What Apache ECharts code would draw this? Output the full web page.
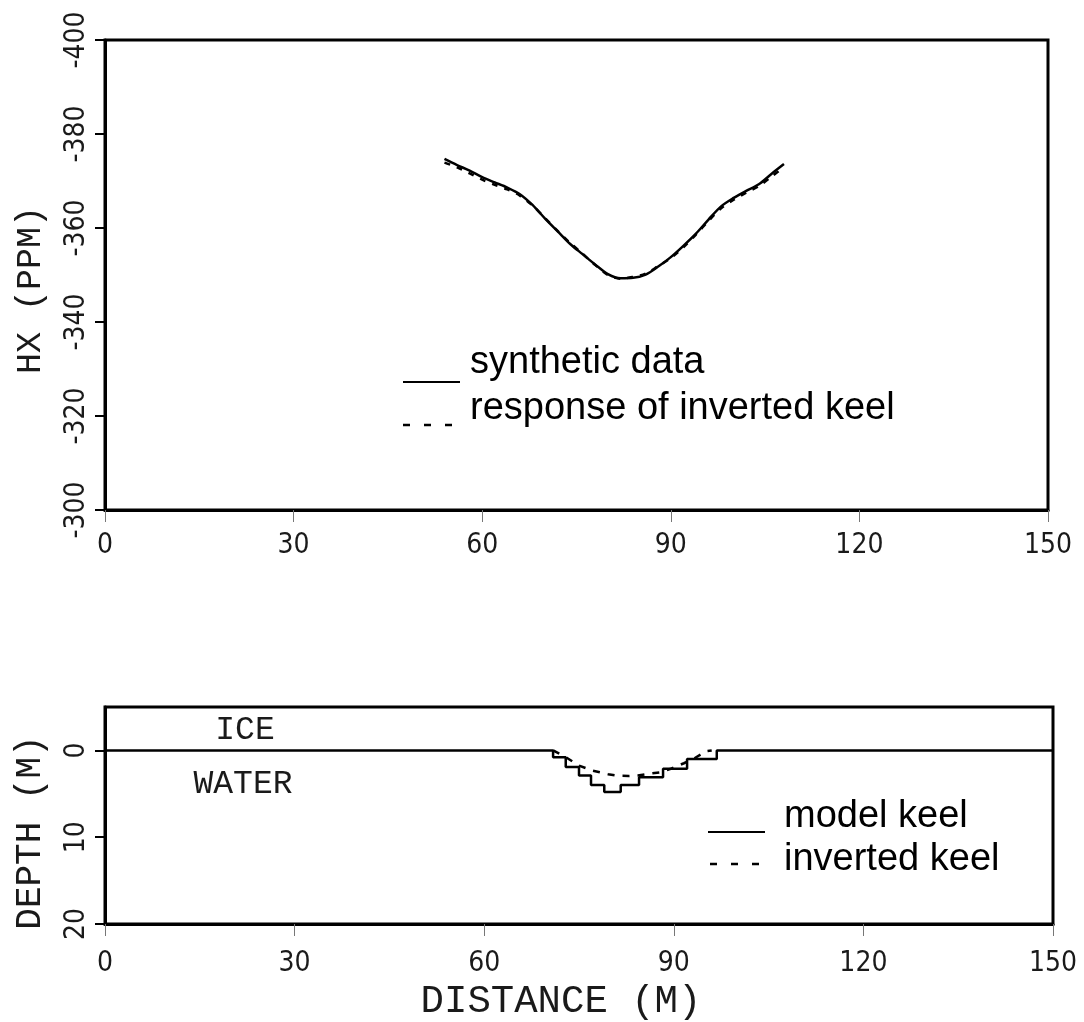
<!DOCTYPE html>
<html>
<head>
<meta charset="utf-8">
<script src="https://cdn.jsdelivr.net/npm/echarts@6/dist/echarts.min.js"></script>
<style>
  html, body { margin: 0; padding: 0; background: #fff; }
  #chart { width: 1084px; height: 1022px; }
</style>
</head>
<body>
<div id="chart"></div>
<script>
// Tick values
const distanceTicks = [0, 30, 60, 90, 120, 150];
const hxTicks = [-400, -380, -360, -340, -320, -300];
const depthTicks = [0, 10, 20];

// Hx profile across the keel (ppm)
const hxDistance  = [54, 56, 58, 60, 62, 64, 66, 68, 70, 72, 74, 76, 78, 80, 82, 84, 86, 88, 90, 92, 94, 96, 98, 100, 102, 104, 106, 108];
const hxSynthetic = [-374.7, -373.4, -372.2, -370.8, -369.7, -368.6, -367.2, -364.9, -362.0, -359.3, -356.6, -354.4, -352.2, -350.2, -349.3, -349.4, -350.1, -351.8, -353.8, -356.2, -358.8, -361.8, -364.6, -366.4, -367.9, -369.3, -371.5, -373.6];
const hxInverted  = [-373.9, -372.9, -371.6, -370.3, -369.2, -368.2, -366.9, -364.8, -362.1, -359.4, -356.8, -354.5, -352.1, -350.0, -349.2, -349.6, -350.3, -351.9, -353.6, -355.9, -358.6, -361.5, -364.2, -366.0, -367.5, -368.9, -370.9, -373.0];

// Model keel: depth level starting at each distance (stepped profile)
const modelKeelDistance = [0, 70.9, 72.9, 75.0, 76.9, 79.0, 81.6, 84.5, 88.3, 92.1, 96.8, 150];
const modelKeelDepth    = [0, 0.8, 1.9, 2.9, 4.0, 4.8, 4.0, 3.1, 2.1, 1.0, 0, 0];

// Inverted keel profile
const invertedKeelDistance = [70.9, 72.9, 75.0, 77.2, 79.6, 81.3, 82.9, 84.3, 86.2, 87.8, 89.4, 91.6, 93.2, 95.2, 96.0];
const invertedKeelDepth    = [0, 0.78, 1.75, 2.34, 2.74, 2.93, 2.94, 2.88, 2.67, 2.53, 2.15, 1.48, 0.93, 0.08, 0];

const pair = (xs, ys) => xs.map((x, i) => [x, ys[i]]);

const tickFont = "'Liberation Sans Narrow', 'DejaVu Sans Condensed', sans-serif";
const plotFont = "'Liberation Mono', 'DejaVu Sans Mono', monospace";
const legendFont = "'Liberation Sans', Arial, sans-serif";

const frame = { show: true, onZero: false, lineStyle: { color: '#000', width: 3 } };
const xLabel = { fontFamily: tickFont, fontSize: 28, color: '#1a1a1a' };
const yLabel = { fontFamily: tickFont, fontSize: 28, color: '#1a1a1a', rotate: 90, margin: 14 };
const xTick = { show: true, length: 12, lineStyle: { color: '#777', width: 1 } };
const yTick = { show: true, length: 10, lineStyle: { color: '#000', width: 2 } };

const chart = echarts.init(document.getElementById('chart'), null, { renderer: 'canvas' });

chart.setOption({
  animation: false,
  backgroundColor: '#fff',
  grid: [
    { left: 105, top: 40, width: 943, height: 470, show: true, borderColor: '#000', borderWidth: 3 },
    { left: 105, top: 707, width: 948, height: 220, show: true, borderColor: '#000', borderWidth: 3 }
  ],
  xAxis: [
    {
      gridIndex: 0, type: 'value', min: 0, max: 150, interval: 30,
      axisLine: frame, axisTick: xTick, splitLine: { show: false },
      axisLabel: Object.assign({ customValues: distanceTicks, margin: 22 }, xLabel)
    },
    {
      gridIndex: 1, type: 'value', min: 0, max: 150, interval: 30,
      axisLine: frame, axisTick: xTick, splitLine: { show: false },
      axisLabel: Object.assign({ customValues: distanceTicks, margin: 26 }, xLabel),
      name: 'DISTANCE (M)', nameLocation: 'middle', nameGap: 58,
      nameTextStyle: { fontFamily: plotFont, fontSize: 39, color: '#1a1a1a', padding: [0, 36, 0, 0] }
    }
  ],
  yAxis: [
    {
      gridIndex: 0, type: 'value', min: -400, max: -300, interval: 20, inverse: true,
      axisLine: frame, axisTick: yTick, splitLine: { show: false },
      axisLabel: Object.assign({ customValues: hxTicks }, yLabel),
      name: 'HX (PPM)', nameLocation: 'middle', nameRotate: 90, nameGap: 57,
      nameTextStyle: { fontFamily: plotFont, fontSize: 35, color: '#1a1a1a', padding: [0, 30, 0, 0] }
    },
    {
      gridIndex: 1, type: 'value', min: -5, max: 20, inverse: true,
      axisLine: frame, splitLine: { show: false },
      axisTick: Object.assign({ customValues: depthTicks }, yTick),
      axisLabel: Object.assign({ customValues: depthTicks }, yLabel),
      name: 'DEPTH (M)', nameLocation: 'middle', nameRotate: 90, nameGap: 57,
      nameTextStyle: { fontFamily: plotFont, fontSize: 36, color: '#1a1a1a', padding: [0, 34, 0, 0] }
    }
  ],
  series: [
    {
      name: 'synthetic data', type: 'line', xAxisIndex: 0, yAxisIndex: 0,
      data: pair(hxDistance, hxSynthetic), smooth: 0.3, symbol: 'none',
      lineStyle: { color: '#000', width: 2.5 }
    },
    {
      name: 'response of inverted keel', type: 'line', xAxisIndex: 0, yAxisIndex: 0,
      data: pair(hxDistance, hxInverted), smooth: 0.3, symbol: 'none',
      lineStyle: { color: '#000', width: 2.5, type: [6, 7] }
    },
    {
      name: 'model keel', type: 'line', xAxisIndex: 1, yAxisIndex: 1,
      data: pair(modelKeelDistance, modelKeelDepth), step: 'end', symbol: 'none',
      lineStyle: { color: '#000', width: 2.5 }
    },
    {
      name: 'inverted keel', type: 'line', xAxisIndex: 1, yAxisIndex: 1,
      data: pair(invertedKeelDistance, invertedKeelDepth), symbol: 'none',
      lineStyle: { color: '#000', width: 2.5, type: [7, 8] }
    }
  ],
  graphic: [
    // upper legend
    { type: 'line', shape: { x1: 403, y1: 382, x2: 460, y2: 382 }, style: { stroke: '#000', lineWidth: 2 } },
    { type: 'text', x: 470, y: 363, style: { text: 'synthetic data', font: '38px ' + legendFont, fill: '#000', verticalAlign: 'middle' } },
    { type: 'line', shape: { x1: 403, y1: 425, x2: 452, y2: 425 }, style: { stroke: '#000', lineWidth: 2.5, lineDash: [7, 14] } },
    { type: 'text', x: 470, y: 409, style: { text: 'response of inverted keel', font: '38px ' + legendFont, fill: '#000', verticalAlign: 'middle' } },
    // lower legend
    { type: 'line', shape: { x1: 708, y1: 832, x2: 765, y2: 832 }, style: { stroke: '#000', lineWidth: 2 } },
    { type: 'text', x: 784, y: 817, style: { text: 'model keel', font: '38px ' + legendFont, fill: '#000', verticalAlign: 'middle' } },
    { type: 'line', shape: { x1: 710, y1: 864, x2: 760, y2: 864 }, style: { stroke: '#000', lineWidth: 2.5, lineDash: [7, 14] } },
    { type: 'text', x: 784, y: 860, style: { text: 'inverted keel', font: '38px ' + legendFont, fill: '#000', verticalAlign: 'middle' } },
    // layer labels
    { type: 'text', x: 245, y: 730, style: { text: 'ICE', font: '33px ' + plotFont, fill: '#1a1a1a', align: 'center', verticalAlign: 'middle' } },
    { type: 'text', x: 243, y: 784, style: { text: 'WATER', font: '33px ' + plotFont, fill: '#1a1a1a', align: 'center', verticalAlign: 'middle' } }
  ]
});
</script>
</body>
</html>
